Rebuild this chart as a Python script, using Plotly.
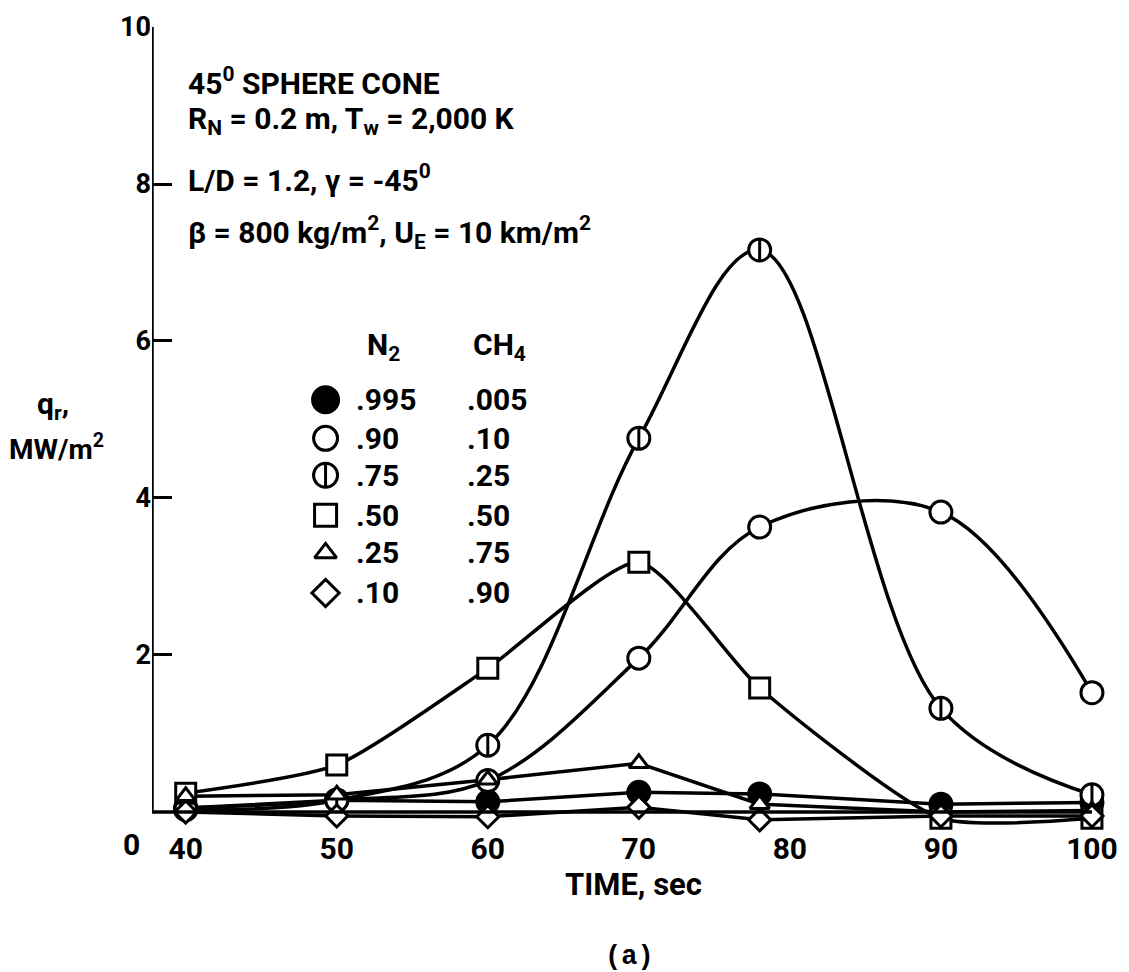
import plotly.graph_objects as go

# ---------------- data ----------------
time_s = [40, 50, 60, 70, 78, 90, 100]
n2_frac = [".995", ".90", ".75", ".50", ".25", ".10"]
ch4_frac = [".005", ".10", ".25", ".50", ".75", ".90"]
q_995 = [0.05, 0.15, 0.13, 0.25, 0.23, 0.10, 0.12]
q_90 = [0.05, 0.15, 0.40, 1.96, 3.63, 3.82, 1.52]
q_75 = [0.03, 0.15, 0.85, 4.76, 7.16, 1.32, 0.22]
q_50 = [0.24, 0.60, 1.83, 3.18, 1.58, -0.08, -0.08]
q_25 = [0.20, 0.22, 0.41, 0.62, 0.10, 0.00, 0.02]
q_10 = [0.00, -0.05, -0.06, 0.06, -0.10, -0.05, -0.05]
series_q = [q_995, q_90, q_75, q_50, q_25, q_10]
x_ticks = [40, 50, 60, 70, 80, 90, 100]
y_ticks = [2, 4, 6, 8, 10]

# ---------------- styles ----------------
symbols = ["circle", "circle", "circle", "square", "triangle-up", "diamond"]
fills = ["black", "white", "white", "white", "white", "white"]
smooth = [0, 1.0, 1.0, 0.6, 0, 0]
msize = [22, 22, 22, 20, 17, 17]
legend_msize = [26, 24, 24, 22, 19, 21]
split_bar = [False, False, True, False, False, False]

FONT = "Roboto, Liberation Sans, sans-serif"
X0, X1 = 37.768, 101.195
Y0, Y1 = -0.204, 10.0


def tfont(size):
    return dict(family=FONT, size=size, color="black", weight="bold")


fig = go.Figure()

# lines first
for q, sm in zip(series_q, smooth):
    line = dict(color="black", width=3.5, shape="spline" if sm else "linear")
    if sm:
        line["smoothing"] = sm
    fig.add_trace(go.Scatter(x=time_s, y=q, mode="lines", line=line,
                             showlegend=False, hoverinfo="skip"))

# markers on top
for q, sym, fc, ms, bar in zip(series_q, symbols, fills, msize, split_bar):
    fig.add_trace(go.Scatter(
        x=time_s, y=q, mode="markers", cliponaxis=False,
        marker=dict(symbol=sym, size=ms, color=fc,
                    line=dict(color="black", width=3)),
        showlegend=False))
    if bar:
        fig.add_trace(go.Scatter(
            x=time_s, y=q, mode="markers", cliponaxis=False,
            marker=dict(symbol="line-ns", size=ms - 6,
                        line=dict(color="black", width=3)),
            showlegend=False))

# ---------------- in-plot legend table ----------------
leg_sym_x = 49.26
leg_n2_x = 51.15
leg_ch4_x = 58.5
leg_rows_y = [5.25, 4.76, 4.29, 3.78, 3.30, 2.79]
for i in range(len(n2_frac)):
    fig.add_trace(go.Scatter(
        x=[leg_sym_x], y=[leg_rows_y[i]], mode="markers", cliponaxis=False,
        marker=dict(symbol=symbols[i], size=legend_msize[i], color=fills[i],
                    line=dict(color="black", width=3)),
        showlegend=False))
    if split_bar[i]:
        fig.add_trace(go.Scatter(
            x=[leg_sym_x], y=[leg_rows_y[i]], mode="markers", cliponaxis=False,
            marker=dict(symbol="line-ns", size=legend_msize[i] - 8,
                        line=dict(color="black", width=3)),
            showlegend=False))

annotations = []
tf = tfont(30)
for i in range(len(n2_frac)):
    annotations.append(dict(x=leg_n2_x, y=leg_rows_y[i], xref="x", yref="y",
                            text=n2_frac[i], showarrow=False, xanchor="left",
                            yanchor="middle", font=tf))
    annotations.append(dict(x=leg_ch4_x, y=leg_rows_y[i], xref="x", yref="y",
                            text=ch4_frac[i], showarrow=False, xanchor="left",
                            yanchor="middle", font=tf))
annotations.append(dict(x=53.1, y=5.93, xref="x", yref="y", text="N<sub>2</sub>",
                        showarrow=False, xanchor="center", yanchor="middle", font=tf))
annotations.append(dict(x=60.75, y=5.93, xref="x", yref="y", text="CH<sub>4</sub>",
                        showarrow=False, xanchor="center", yanchor="middle", font=tf))

# description block
desc = [
    ("45<sup>0</sup> SPHERE CONE", 9.31),
    ("R<sub>N</sub> = 0.2 m, T<sub>w</sub> = 2,000 K", 8.81),
    ("L/D = 1.2, γ = -45<sup>0</sup>", 8.07),
    ("β = 800 kg/m<sup>2</sup>, U<sub>E</sub> = 10 km/m<sup>2</sup>", 7.38),
]
for txt, yy in desc:
    annotations.append(dict(x=40.05, y=yy, xref="x", yref="y", text=txt,
                            showarrow=False, xanchor="left", yanchor="middle",
                            font=tf))

# axis label texts (figure pixel positions converted below)
annotations += [
    dict(x=52, y=405, xref="paper", yref="paper", text="q<sub>r</sub>,",
         showarrow=False, font=tf, xanchor="center", yanchor="middle"),
    dict(x=56, y=448, xref="paper", yref="paper", text="MW/m<sup>2</sup>",
         showarrow=False, font=tfont(28), xanchor="center", yanchor="middle"),
    dict(x=131, y=844, xref="paper", yref="paper", text="0",
         showarrow=False, font=tf, xanchor="center", yanchor="middle"),
    dict(x=638, y=884, xref="paper", yref="paper", text="TIME, sec",
         showarrow=False, font=tfont(31), xanchor="center", yanchor="middle"),
    dict(x=633, y=957, xref="paper", yref="paper", text="(a)",
         showarrow=False, font=dict(family="Liberation Mono, DejaVu Sans Mono, monospace",
                                    size=27, color="black", weight="bold"),
         xanchor="center", yanchor="middle"),
]
L, R, T, B = 152, 11, 27, 144
W, H = 1129 - L - R, 972 - T - B
for a in annotations:
    if a.get("xref") == "paper":
        fx, fy = a["x"], a["y"]
        a["x"] = (fx - L) / W
        a["y"] = 1 - (fy - T) / H

fig.update_layout(
    width=1129, height=972,
    margin=dict(l=L, r=R, t=T, b=B),
    paper_bgcolor="white", plot_bgcolor="white",
    showlegend=False,
    annotations=annotations,
    shapes=[
        dict(type="line", xref="x", yref="y", x0=X0, x1=X0, y0=0, y1=10,
             line=dict(color="black", width=3.5)),
        dict(type="line", xref="x", yref="y", x0=X0, x1=100, y0=0, y1=0,
             line=dict(color="black", width=3.5)),
    ],
    xaxis=dict(range=[X0, X1], tickvals=x_ticks, ticks="", showgrid=False,
               zeroline=False, showline=False, tickfont=tfont(30)),
    yaxis=dict(range=[Y0, Y1], tickvals=y_ticks, ticks="inside", ticklen=20,
               tickwidth=3, tickcolor="black", showgrid=False, zeroline=False,
               showline=False, tickfont=tfont(27)),
)

fig.write_html("out.html")
